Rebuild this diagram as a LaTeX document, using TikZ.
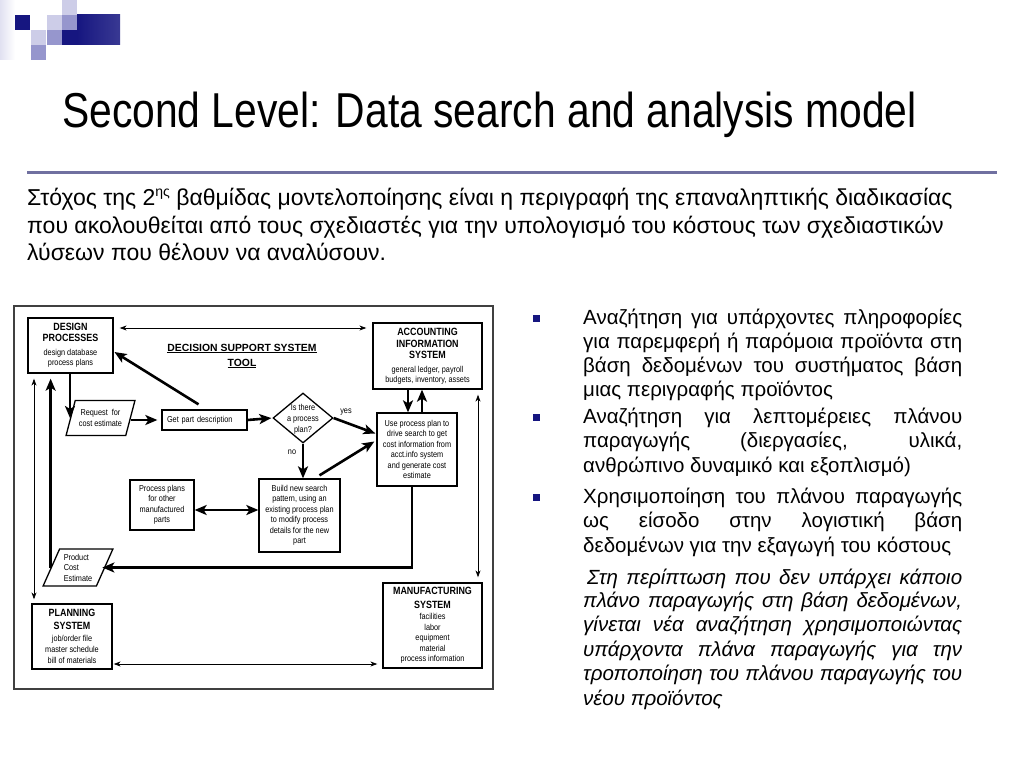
\documentclass[tikz,border=0pt]{standalone}
\usepackage{fontspec}
\setmainfont{Liberation Sans}
\newfontfamily\titlefont[FakeStretch=0.833]{Liberation Sans}
\newfontfamily\dfont[FakeStretch=0.85]{Liberation Sans}
\usetikzlibrary{arrows.meta,shapes.geometric,calc}
\definecolor{navy}{RGB}{22,22,128}
\definecolor{rulecol}{RGB}{112,112,160}
\definecolor{lavA}{RGB}{205,205,232}
\definecolor{lavB}{RGB}{150,150,205}
\newcommand{\hd}[1]{{\fontsize{10.5}{12}\selectfont\bfseries #1}}
\tikzset{
  box/.style={draw, line width=1.3pt, rectangle, inner sep=2pt, align=center,
    font=\dfont\fontsize{8.6}{10.5}\selectfont},
  para/.style={draw, line width=1.3pt, trapezium, trapezium left angle=65,
    trapezium right angle=115, trapezium stretches=true, inner sep=0pt,
    font=\dfont\fontsize{8.6}{10.5}\selectfont},
  lbl/.style={font=\dfont\fontsize{8.6}{11}\selectfont, inner sep=0pt},
  thinA/.style={line width=0.8pt, -{Stealth[length=7pt,width=5pt]}},
  thinAA/.style={line width=0.8pt, {Stealth[length=7pt,width=5pt]}-{Stealth[length=7pt,width=5pt]}},
  thickA/.style={line width=2.6pt, -{Stealth[length=12pt,width=10pt,inset=3pt]}},
  thickAA/.style={line width=2.6pt, {Stealth[length=12pt,width=10pt,inset=3pt]}-{Stealth[length=12pt,width=10pt,inset=3pt]}},
  body/.style={anchor=base west, inner sep=0pt, font=\fontsize{20.5}{20.5}\selectfont},
  ital/.style={anchor=base west, inner sep=0pt, font=\itshape\fontsize{20.5}{20.5}\selectfont},
  intro/.style={anchor=base west, inner sep=0pt, font=\fontsize{23}{23}\selectfont},
}
\begin{document}
\begin{tikzpicture}[x=1pt,y=-1pt]
\useasboundingbox (0,0) rectangle (1024,765);
\fill[white] (0,0) rectangle (1024,765);

% logo
\shade[left color=lavA!60, right color=white] (0,0) rectangle (15,60);
\fill[navy] (15,15) rectangle (30,30);
\fill[lavA] (47,15) rectangle (62,30);
\fill[lavA] (62,0) rectangle (77,15);
\fill[lavB] (62,15) rectangle (77,30);
\fill[lavA] (31,30) rectangle (46,45);
\fill[lavB] (47,30) rectangle (62,45);
\fill[lavB] (31,45) rectangle (46,60);
\fill[navy] (62,30) rectangle (77,45);
\shade[left color=navy, right color=navy!85] (77,15) rectangle (120,45);

% title and rule
\node[anchor=base west, inner sep=0pt, font=\titlefont\fontsize{49}{49}\selectfont] (title) at (62,127) {Second Level: Data search and analysis model};
\draw[rulecol, line width=3pt] (27,172) -- (997,172);

% intro paragraph
\node[intro] (i1) at (27,205) {Στόχος της 2{\fontsize{14}{14}\selectfont\raisebox{8.5pt}{ης}} βαθμίδας μοντελοποίησης είναι η περιγραφή της επαναληπτικής διαδικασίας};
\node[intro] (i2) at (27,233) {που ακολουθείται από τους σχεδιαστές για την υπολογισμό του κόστους των σχεδιαστικών};
\node[intro] (i3) at (27,260) {λύσεων που θέλουν να αναλύσουν.};

% bullets
\fill[navy] (533,315) rectangle (540,322);
\fill[navy] (533,414) rectangle (540,421);
\fill[navy] (533,494) rectangle (540,501);
\node[body] (b11) at (583,324) {\makebox[379pt][s]{Αναζήτηση για υπάρχοντες πληροφορίες}};
\node[body] (b12) at (583,348) {\makebox[379pt][s]{για παρεμφερή ή παρόμοια προϊόντα στη}};
\node[body] (b13) at (583,372) {\makebox[379pt][s]{βάση δεδομένων του συστήματος βάση}};
\node[body] (b14) at (583,396) {μιας περιγραφής προϊόντος};
\node[body] (b21) at (583,423) {\makebox[379pt][s]{Αναζήτηση για λεπτομέρειες πλάνου}};
\node[body] (b22) at (583,447) {\makebox[379pt][s]{παραγωγής (διεργασίες, υλικά,}};
\node[body] (b23) at (583,472) {ανθρώπινο δυναμικό και εξοπλισμό)};
\node[body] (b31) at (583,503) {\makebox[379pt][s]{Χρησιμοποίηση του πλάνου παραγωγής}};
\node[body] (b32) at (583,527) {\makebox[379pt][s]{ως είσοδο στην λογιστική βάση}};
\node[body] (b33) at (583,552) {δεδομένων για την εξαγωγή του κόστους};
\node[ital] (c1) at (587,584) {\makebox[375pt][s]{Στη περίπτωση που δεν υπάρχει κάποιο}};
\node[ital] (c2) at (583,607) {\makebox[379pt][s]{πλάνο παραγωγής στη βάση δεδομένων,}};
\node[ital] (c3) at (583,631) {\makebox[379pt][s]{γίνεται νέα αναζήτηση χρησιμοποιώντας}};
\node[ital] (c4) at (583,656) {\makebox[379pt][s]{υπάρχοντα πλάνα παραγωγής για την}};
\node[ital] (c5) at (583,680) {\makebox[379pt][s]{τροποποίηση του πλάνου παραγωγής του}};
\node[ital] (c6) at (583,705) {νέου προϊόντος};

% diagram frame
\draw[line width=1.6pt, black!75] (14,306) rectangle (493,689);

% diagram nodes
\node[box, minimum width=85pt, minimum height=55pt] (design) at (70.5,345.5)
  {\hd{DESIGN}\\[0.5pt]\hd{PROCESSES}\\[3pt]design database\\process plans};
\node[box, minimum width=109pt, minimum height=66pt] (acct) at (427.5,356)
  {\hd{ACCOUNTING}\\[2pt]\hd{INFORMATION}\\[0.5pt]\hd{SYSTEM}\\[3pt]general ledger, payroll\\budgets, inventory, assets};
\node[font=\bfseries\fontsize{10.4}{15}\selectfont, align=center, inner sep=0pt] (dst) at (242,356)
  {\underline{DECISION SUPPORT SYSTEM}\\\underline{TOOL}};
\node[para, minimum width=69pt, minimum height=35pt, align=center] (req) at (100.5,418)
  {Request~~for\\cost estimate};
\node[box, minimum height=20pt, text width=75pt, inner xsep=5pt, align=left] (getpart) at (204.5,420)
  {Get part description};
\node[draw, line width=1.3pt, diamond, minimum width=60pt, minimum height=50pt, inner sep=0pt] (dia) at (303,418) {};
\node[lbl, align=center] (diat) at ($(dia.center)+(0,1.5)$) {Is there\\a process\\plan?};
\node[lbl] (yes) at (346,412) {yes};
\node[lbl] (no) at (292,452) {no};
\node[box, minimum width=80pt, minimum height=73pt] (use) at (417,449.5)
  {Use process plan to\\drive search to get\\cost information from\\acct.info system\\and generate cost\\estimate};
\node[box, minimum width=81pt, minimum height=73pt] (build) at (299.5,515.5)
  {Build new search\\pattern, using an\\existing process plan\\to modify process\\details for the new\\part};
\node[box, minimum width=64pt, minimum height=50pt] (plans) at (162,505)
  {Process plans\\for other\\manufactured\\parts};
\node[para, minimum width=70pt, minimum height=37pt, align=left] (pce) at (78,567.5)
  {Product\\Cost\\Estimate};
\node[box, minimum width=80pt, minimum height=65pt] (planning) at (72,636.5)
  {\hd{PLANNING}\\[2pt]\hd{SYSTEM}\\[1.5pt]job/order file\\[0.5pt]master schedule\\[0.5pt]bill of materials};
\node[box, minimum width=99pt, minimum height=85pt] (manuf) at (432.5,625.5)
  {\hd{MANUFACTURING}\\[3pt]\hd{SYSTEM}\\[1pt]facilities\\labor\\equipment\\material\\process information};

% helper coordinates
\coordinate (y328) at (0,328);
\coordinate (y510) at (0,510);
\coordinate (y664) at (0,664);
\coordinate (x34) at (34,0);
\coordinate (x70) at (70,0);
\coordinate (x408) at (408,0);
\coordinate (x422) at (422,0);
\coordinate (x478) at (478,0);
\coordinate (x412) at (412,0);

% connectors
\draw[thinAA, shorten <=6pt, shorten >=6pt] (design.east |- y328) -- (acct.west |- y328);
\draw[thickA, shorten >=1pt] ($(getpart.north)+(-6,-5)$) -- ($(design.east)+(0,6)$);
\draw[thinAA, shorten <=5pt, shorten >=4pt] (design.south -| x34) -- (planning.north -| x34);
\draw[thickA, shorten >=5pt] (pce.west) -- (pce.west |- design.south);
\draw[thickA] (design.south -| x70) -- (req.west -| x70);
\draw[thickA, shorten >=4pt] (req.east |- getpart.west) -- (getpart.west);
\draw[thickA, shorten >=1pt] (getpart.east) -- (dia.west);
\draw[thickA] (dia.east) -- ($(use.west)+(-1,-16)$);
\draw[thickA] (dia.south) -- (dia.south |- build.north);
\draw[thickA] ($(build.north)+(20,-3)$) -- ($(use.west)+(-2,-8)$);
\draw[thickAA] (plans.east |- y510) -- (build.west |- y510);
\draw[thickA] (acct.south -| x408) -- (use.north -| x408);
\draw[thickA] (use.north -| x422) -- (acct.south -| x422);
\draw[thinAA, shorten <=5pt, shorten >=5pt] (acct.south -| x478) -- (manuf.north -| x478);
\draw[thickA, shorten >=-3pt] (use.south -| x412) |- (pce.east);
\draw[thinAA, shorten <=1pt, shorten >=5pt] (planning.east |- y664) -- (manuf.west |- y664);
\end{tikzpicture}
\end{document}
